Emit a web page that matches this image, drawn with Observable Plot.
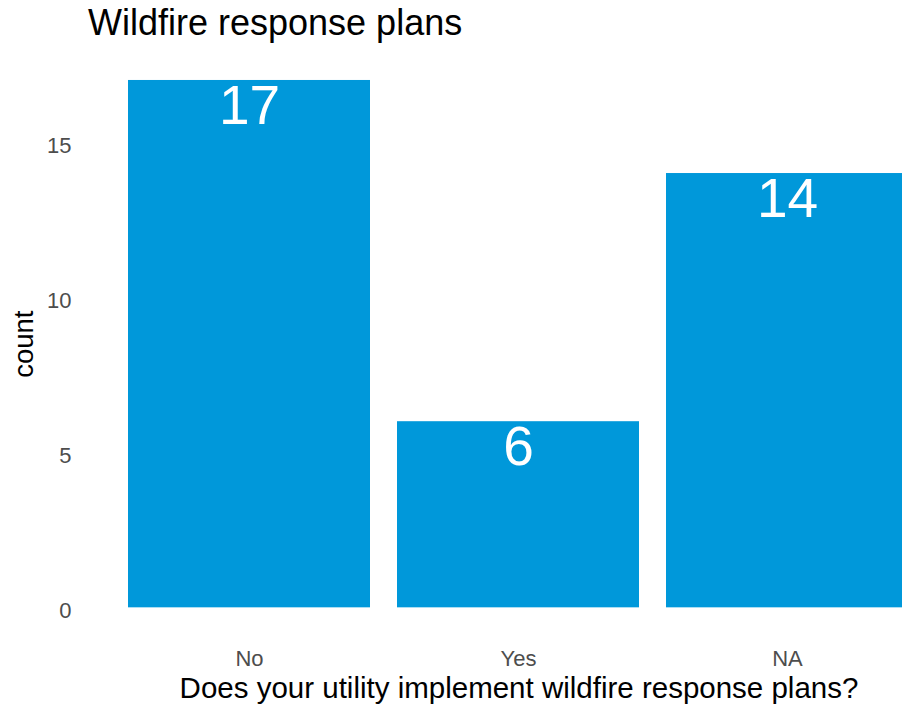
<!DOCTYPE html>
<html>
<head>
<meta charset="utf-8">
<script src="https://cdn.jsdelivr.net/npm/d3@7"></script>
<script src="https://cdn.jsdelivr.net/npm/@observablehq/plot@0.6"></script>
<style>
  html, body { margin: 0; padding: 0; background: #ffffff; overflow: hidden; }
  body { width: 902px; height: 704px; font-family: "Liberation Sans", Arial, sans-serif; }
  #title {
    height: 45px;
    line-height: 45px;
    padding-left: 88px;
    font-size: 36px;
    color: #000000;
    white-space: nowrap;
  }
</style>
</head>
<body>
<div id="title">Wildfire response plans</div>
<div id="chart"></div>
<script>
// Survey answers and how many utilities gave each one
const answers = ["No", "Yes", "NA"];
const counts = [17, 6, 14];
const yTicks = [0, 5, 10, 15];

const xTitle = "Does your utility implement wildfire response plans?";
const yTitle = "count";

const rows = answers.map((answer, i) => ({answer, count: counts[i]}));

const barColor = "#0098DA";

const chart = Plot.plot({
  width: 949,
  height: 659,
  marginLeft: 88,
  marginRight: 0,
  marginTop: 8.6,
  marginBottom: 70.3,
  style: {
    fontFamily: "'Liberation Sans', Arial, sans-serif",
    background: "#ffffff",
    maxWidth: "none",
    overflow: "visible"
  },
  x: {domain: answers, paddingInner: 0.1, paddingOuter: 0.15, axis: null},
  y: {domain: [-0.85, 17.85], axis: null},
  marks: [
    Plot.barY(rows, {x: "answer", y: "count", fill: barColor}),
    Plot.text(rows, {
      x: "answer",
      y: "count",
      text: (d) => String(d.count),
      fill: "#ffffff",
      fontSize: 55,
      lineAnchor: "top",
      dy: 4
    }),
    Plot.axisY(yTicks, {
      tickSize: 0,
      tickPadding: 17,
      dy: 3,
      fontSize: 22,
      fill: "#4D4D4D",
      label: null
    }),
    Plot.axisX(answers, {
      tickSize: 0,
      tickPadding: 16,
      fontSize: 22,
      fill: "#4D4D4D",
      label: null
    }),
    Plot.text([yTitle], {
      frameAnchor: "left",
      rotate: -90,
      dx: -64,
      textAnchor: "middle",
      lineAnchor: "middle",
      fontSize: 27.5,
      fill: "#000000"
    }),
    Plot.text([xTitle], {
      frameAnchor: "bottom",
      dy: 54,
      textAnchor: "middle",
      lineAnchor: "middle",
      fontSize: 29.5,
      fill: "#000000"
    })
  ]
});

document.getElementById("chart").appendChild(chart);
</script>
</body>
</html>
